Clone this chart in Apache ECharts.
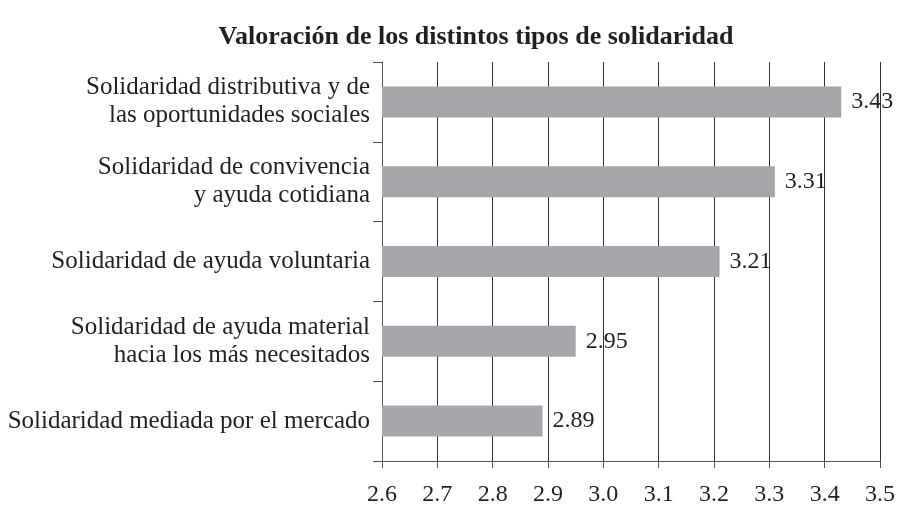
<!DOCTYPE html>
<html>
<head>
<meta charset="utf-8">
<script src="https://cdn.jsdelivr.net/npm/echarts@6/dist/echarts.min.js"></script>
<style>
  html, body { margin: 0; padding: 0; background: #fff; }
  #chart { width: 899px; height: 507px; }
</style>
</head>
<body>
<div id="chart"></div>
<script>
// datos del gráfico
var categorias = [
  'Solidaridad distributiva y de\nlas oportunidades sociales',
  'Solidaridad de convivencia\ny ayuda cotidiana',
  'Solidaridad de ayuda voluntaria',
  'Solidaridad de ayuda material\nhacia los más necesitados',
  'Solidaridad mediada por el mercado'
];
var valores = [3.43, 3.31, 3.21, 2.95, 2.89];
var ejeMin = 2.6, ejeMax = 3.5, ejeIntervalo = 0.1;

var fuente = '"Liberation Serif", "DejaVu Serif", serif';
var negro = '#231f20';

var myChart = echarts.init(document.getElementById('chart'));

var option = {
  backgroundColor: '#fff',
  animation: false,
  title: {
    text: 'Valoración de los distintos tipos de solidaridad',
    left: 471,
    textAlign: 'center',
    top: 19,
    textStyle: { fontFamily: fuente, fontWeight: 'bold', fontSize: 26, color: negro }
  },
  grid: { left: 382, right: 19, top: 62, bottom: 45 },
  xAxis: {
    type: 'value',
    min: ejeMin,
    max: ejeMax,
    interval: ejeIntervalo,
    axisLine: { show: true, lineStyle: { color: '#555', width: 1 } },
    axisTick: { show: true, length: 7, lineStyle: { color: '#555' } },
    splitLine: { show: true, lineStyle: { color: '#333', width: 1 } },
    axisLabel: {
      margin: 22,
      fontFamily: fuente, fontSize: 24, color: negro,
      formatter: function (v) { return v.toFixed(1); }
    }
  },
  yAxis: {
    type: 'category',
    inverse: true,
    data: categorias,
    axisLine: { show: true, lineStyle: { color: '#555', width: 1 } },
    axisTick: { show: true, length: 9, lineStyle: { color: '#555' } },
    axisLabel: {
      margin: 12,
      fontFamily: fuente, fontSize: 25, lineHeight: 28, color: negro, align: 'right'
    }
  },
  series: [{
    type: 'bar',
    data: valores,
    barWidth: 31,
    itemStyle: { color: '#a6a7aa' },
    label: {
      show: true,
      position: 'right',
      distance: 10,
      fontFamily: fuente, fontSize: 24, color: negro,
      formatter: function (p) { return p.value.toFixed(2); }
    }
  }]
};
myChart.setOption(option);
</script>
</body>
</html>
